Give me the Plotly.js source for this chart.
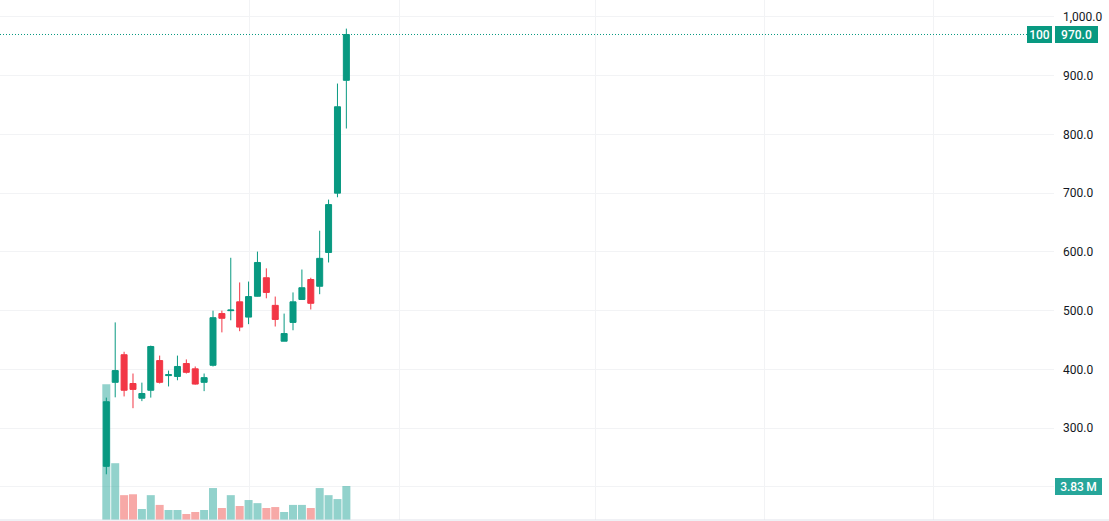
<!DOCTYPE html>
<html>
<head>
<meta charset="utf-8">
<script src="https://cdn.plot.ly/plotly-3.0.1.min.js"></script>
<style>html,body{margin:0;padding:0;background:#fff;overflow:hidden}#chart{width:1109px;height:521px}</style>
</head>
<body>
<div id="chart"></div>
<script>
const sessions = [0,1,2,3,4,5,6,7,8,9,10,11,12,13,14,15,16,17,18,19,20,21,22,23,24,25,26,27];
const opens  = [235,378,425,376,351,364.5,415,389.5,388,410,401,378,407,495,500,515,489,524.5,556,509,448,480,519,553,541.5,599,700,892];
const highs  = [352,480,430,393,377.5,440.5,423.5,398,423.5,417,405,393,500,500,590,548,549.5,600.5,572,524,495,531,570,556,636,689,886.5,980];
const lows   = [221.5,352.5,354,334,346,352,376,371,381.5,393,374,363,405,463,483.6,465,477,524,521,473,448,466.6,519,502,528,582,693,810];
const closes = [345,398,364.5,366,359,439,378,391,405,395,375,386,488,487,501,472,524,582,531,485,461,515,539,512.5,589,680.5,847,970];
const volumes = [15.3,6.4,2.8,2.9,1.24,2.8,1.7,1.13,1.13,0.68,0.9,1.13,3.6,1.35,2.8,1.58,2.25,1.9,1.35,1.46,0.9,1.7,1.7,1.35,3.6,2.8,2.36,3.83];
const verticalGridAt = [16.05,32.96,55,74,93];
const priceTicks = [200,300,400,500,600,700,800,900,1000];
const priceTickText = ["","300.0","400.0","500.0","600.0","700.0","800.0","900.0","1,000.0"];
const countdownLabel = "100";
const volumeLabel = "3.83\u2009M";

const UP = "#089981", DOWN = "#f23645";
const volColors = closes.map((c,i)=> c >= opens[i] ? "rgba(38,166,154,0.5)" : "rgba(239,83,80,0.5)");
const lastClose = closes[closes.length-1];
const lastVol = volumes[volumes.length-1];
const FONT = "Roboto, sans-serif";
const GRID = "#f2f3f5";

const traces = [
  {type:"bar", x:sessions, y:volumes, xaxis:"x", yaxis:"y",
   marker:{color:volColors, line:{width:0}}, hoverinfo:"skip", showlegend:false},
  {type:"candlestick", x:sessions, open:opens, high:highs, low:lows, close:closes,
   xaxis:"x", yaxis:"y2", whiskerwidth:0, hoverinfo:"skip", showlegend:false,
   increasing:{line:{color:UP,width:1}, fillcolor:UP},
   decreasing:{line:{color:DOWN,width:1}, fillcolor:DOWN}}
];

const tag = (o)=>Object.assign({showarrow:false, borderpad:0, borderwidth:0, height:17,
   font:{family:FONT,size:12,color:"#ffffff",weight:500}, xref:"paper"}, o);

const layout = {
  width:1109, height:521,
  margin:{l:0,r:55,t:0,b:1,pad:0},
  paper_bgcolor:"#ffffff", plot_bgcolor:"#ffffff",
  bargap:0.1, boxgap:0.325, boxgroupgap:0, showlegend:false,
  font:{family:FONT,size:12,color:"#131722"},
  xaxis:{range:[-11.96,106.6], tickmode:"array", tickvals:verticalGridAt, ticktext:verticalGridAt.map(()=>""),
         showgrid:true, gridcolor:GRID, gridwidth:1, zeroline:false, showline:false, ticks:"",
         rangeslider:{visible:false}, fixedrange:true},
  yaxis:{range:[0,58.6], visible:false, showgrid:false, zeroline:false, fixedrange:true},
  yaxis2:{overlaying:"y", side:"right", anchor:"x", range:[143.7,1028.7],
          tickmode:"array", tickvals:priceTicks, ticktext:priceTickText,
          showgrid:true, gridcolor:GRID, gridwidth:1, zeroline:false, showline:false,
          ticks:"", ticklabelstandoff:8, tickfont:{family:FONT,size:12,color:"#131722"}, fixedrange:true},
  shapes:[
    {type:"line", xref:"paper", yref:"y2", x0:0, x1:0.9745, y0:lastClose, y1:lastClose,
     line:{color:UP,width:1,dash:"1px,2px"}},
    {type:"line", xref:"paper", yref:"paper", x0:0, x1:1.0525, y0:0, y1:0,
     line:{color:"#e0e3eb",width:1}}
  ],
  annotations:[
    tag({x:1, xanchor:"right", xshift:-2, yref:"y2", y:lastClose, width:25, text:countdownLabel, bgcolor:UP}),
    tag({x:1, xanchor:"left", xshift:1, yref:"y2", y:lastClose, width:43, text:lastClose.toFixed(1), bgcolor:UP}),
    tag({x:1, xanchor:"left", xshift:1, yref:"y", y:lastVol, width:47, text:volumeLabel, bgcolor:"#26a69a"})
  ]
};
Plotly.newPlot("chart", traces, layout, {displayModeBar:false, staticPlot:true});
</script>
</body>
</html>
